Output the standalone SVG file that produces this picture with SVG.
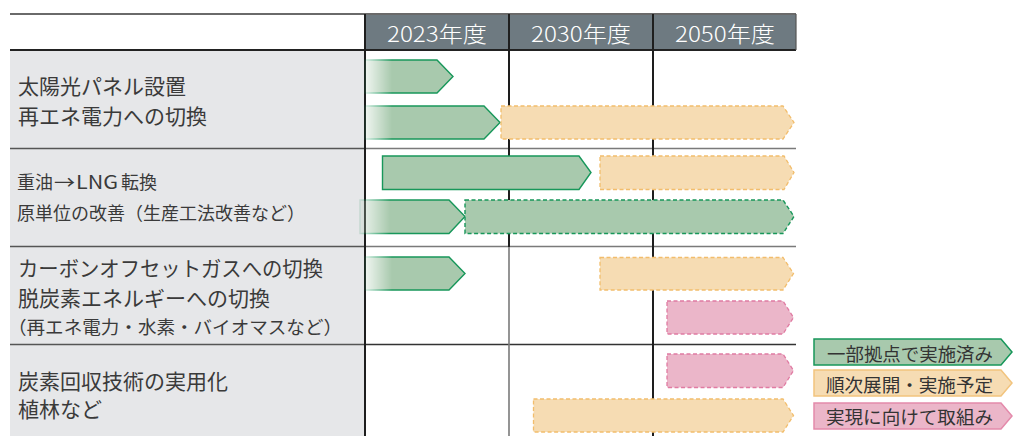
<svg xmlns="http://www.w3.org/2000/svg" width="1013" height="436" viewBox="0 0 1013 436">
<style>
.lbl{font-family:"Noto Sans CJK JP","Noto Sans",sans-serif;fill:#3a3a3a}
.hdr{font-family:"Noto Sans CJK JP","Noto Sans",sans-serif;fill:#fff;font-size:22px;font-weight:300}
.lg{font-family:"Noto Sans CJK JP","Noto Sans",sans-serif;fill:#333;font-size:18px}
.g{fill:#a8c9ad;stroke:#17975a;stroke-width:1.4}
.gd{fill:#a8c9ad;stroke:#17975a;stroke-width:1.4;stroke-dasharray:4 2.5}
.o{fill:#f6dcb3;stroke:#f2bd6c;stroke-width:1.3;stroke-dasharray:4 2.5}
.p{fill:#ebb6c9;stroke:#e07ba2;stroke-width:1.3;stroke-dasharray:4 2.5}
.lgo{fill:#f6dcb3;stroke:#f2c47e;stroke-width:1.5}
.lgp{fill:#ebb6c9;stroke:#e48aab;stroke-width:1.5}
.lgg{fill:#a8c9ad;stroke:#17975a;stroke-width:1.5}
</style>
<defs>
<linearGradient id="fg365" gradientUnits="userSpaceOnUse" x1="365" y1="0" x2="392" y2="0">
<stop offset="0" stop-color="#2a2a2a"/><stop offset="1" stop-color="#fff"/>
</linearGradient>
<linearGradient id="fg360" gradientUnits="userSpaceOnUse" x1="360" y1="0" x2="390" y2="0">
<stop offset="0" stop-color="#2a2a2a"/><stop offset="1" stop-color="#fff"/>
</linearGradient>
<mask id="m365" maskUnits="userSpaceOnUse" x="0" y="0" width="1013" height="436"><rect x="0" y="0" width="1013" height="436" fill="url(#fg365)"/></mask>
<mask id="m360" maskUnits="userSpaceOnUse" x="0" y="0" width="1013" height="436"><rect x="0" y="0" width="1013" height="436" fill="url(#fg360)"/></mask>
</defs>
<rect width="1013" height="436" fill="#fff"/>
<g id="grid">
<rect x="10" y="50" width="354" height="386" fill="#e6e7e9"/>
<rect x="365" y="14" width="431" height="36" fill="#6e7a81"/>
<line x1="10" y1="14" x2="796" y2="14" stroke="#6a6a6a" stroke-width="2"/>
<line x1="10" y1="50" x2="796" y2="50" stroke="#222" stroke-width="2"/>
<line x1="10" y1="148.5" x2="365" y2="148.5" stroke="#555" stroke-width="1.6"/>
<line x1="365" y1="148.5" x2="796" y2="148.5" stroke="#7a7a7a" stroke-width="1.4"/>
<line x1="10" y1="246.5" x2="365" y2="246.5" stroke="#555" stroke-width="1.6"/>
<line x1="365" y1="246.5" x2="796" y2="246.5" stroke="#7a7a7a" stroke-width="1.4"/>
<line x1="10" y1="344.5" x2="365" y2="344.5" stroke="#555" stroke-width="1.6"/>
<line x1="365" y1="344.5" x2="796" y2="344.5" stroke="#333" stroke-width="1.4"/>
<line x1="365" y1="14" x2="365" y2="436" stroke="#1e1e1e" stroke-width="2"/>
<line x1="509" y1="14" x2="509" y2="247" stroke="#1e1e1e" stroke-width="2"/>
<line x1="509" y1="247" x2="509" y2="436" stroke="#7a7a7a" stroke-width="1.6"/>
<line x1="653" y1="14" x2="653" y2="436" stroke="#1e1e1e" stroke-width="2"/>
<line x1="796" y1="14" x2="796" y2="50" stroke="#555" stroke-width="1.2"/>
</g>
<g id="header">
<text class="hdr" x="387" y="42" textLength="100" lengthAdjust="spacingAndGlyphs">2023年度</text>
<text class="hdr" x="531" y="42" textLength="100" lengthAdjust="spacingAndGlyphs">2030年度</text>
<text class="hdr" x="675" y="42" textLength="100" lengthAdjust="spacingAndGlyphs">2050年度</text>
</g>
<g id="labels">
<g id="row1-label">
<text class="lbl" x="18" y="94" font-size="21">太陽光パネル設置</text>
<text class="lbl" x="18" y="124" font-size="21">再エネ電力への切換</text>
</g>
<g id="row2-label">
<text class="lbl" y="189" font-size="18"><tspan x="17">重油</tspan><tspan x="54" textLength="21" lengthAdjust="spacingAndGlyphs">→</tspan><tspan x="76" textLength="42" lengthAdjust="spacingAndGlyphs">LNG</tspan><tspan x="121">転換</tspan></text>
<text class="lbl" x="17" y="220" font-size="18" textLength="288" lengthAdjust="spacingAndGlyphs">原単位の改善（生産工法改善など）</text>
</g>
<g id="row3-label">
<text class="lbl" x="18" y="276" font-size="21" textLength="305" lengthAdjust="spacingAndGlyphs">カーボンオフセットガスへの切換</text>
<text class="lbl" x="18" y="306" font-size="21">脱炭素エネルギーへの切換</text>
<text class="lbl" x="8" y="334" font-size="18" textLength="334" lengthAdjust="spacingAndGlyphs">（再エネ電力・水素・バイオマスなど）</text>
</g>
<g id="row4-label">
<text class="lbl" x="18" y="389" font-size="21">炭素回収技術の実用化</text>
<text class="lbl" x="18" y="417" font-size="21">植林など</text>
</g>
</g>
<g id="bars">
<polygon id="r1-solar" class="g" mask="url(#m365)" points="365,60 437,60 453,76.5 437,93 365,93"/>
<polygon id="r1-re-done" class="g" mask="url(#m365)" points="365,106 484,106 500,122.5 484,139 365,139"/>
<polygon id="r1-re-plan" class="o" points="501,106 783,106 794,122.5 783,139 501,139"/>
<polygon id="r2-lng-done" class="g" points="382.5,156 579,156 591,172.5 579,189.5 382.5,189.5"/>
<polygon id="r2-lng-plan" class="o" points="600,156 784,156 794,172.5 784,189.5 600,189.5"/>
<polygon id="r2-unit-done" class="g" mask="url(#m360)" points="360,200 449,200 465,216.5 449,233.5 360,233.5"/>
<polygon id="r2-unit-cont" class="gd" points="465,200 783,200 794,216.5 783,233.5 465,233.5"/>
<polygon id="r3-offset-done" class="g" mask="url(#m365)" points="365,257 449,257 465,273.5 449,290 365,290"/>
<polygon id="r3-plan" class="o" points="600,257.5 783,257.5 793.5,273.5 783,290 600,290"/>
<polygon id="r3-goal" class="p" points="667,301 783,301 793.5,317.5 783,334 667,334"/>
<polygon id="r4-goal" class="p" points="667,354 783,354 793.5,370.5 783,387.5 667,387.5"/>
<polygon id="r4-plan" class="o" points="533.5,399 783,399 793.5,415.5 783,432 533.5,432"/>
</g>
<g id="legend">
<g id="legend-done">
<polygon class="lgg" points="814,339 1001,339 1012,352 1001,365 814,365"/>
<text class="lg" x="827" y="361" textLength="166" lengthAdjust="spacingAndGlyphs">一部拠点で実施済み</text>
</g>
<g id="legend-plan">
<polygon class="lgo" points="814,370 1001,370 1012,383 1001,396 814,396"/>
<text class="lg" x="826" y="392" textLength="167" lengthAdjust="spacingAndGlyphs">順次展開・実施予定</text>
</g>
<g id="legend-goal">
<polygon class="lgp" points="814,403 1001,403 1012,416 1001,429 814,429"/>
<text class="lg" x="826" y="424" textLength="167" lengthAdjust="spacingAndGlyphs">実現に向けて取組み</text>
</g>
</g>
</svg>
